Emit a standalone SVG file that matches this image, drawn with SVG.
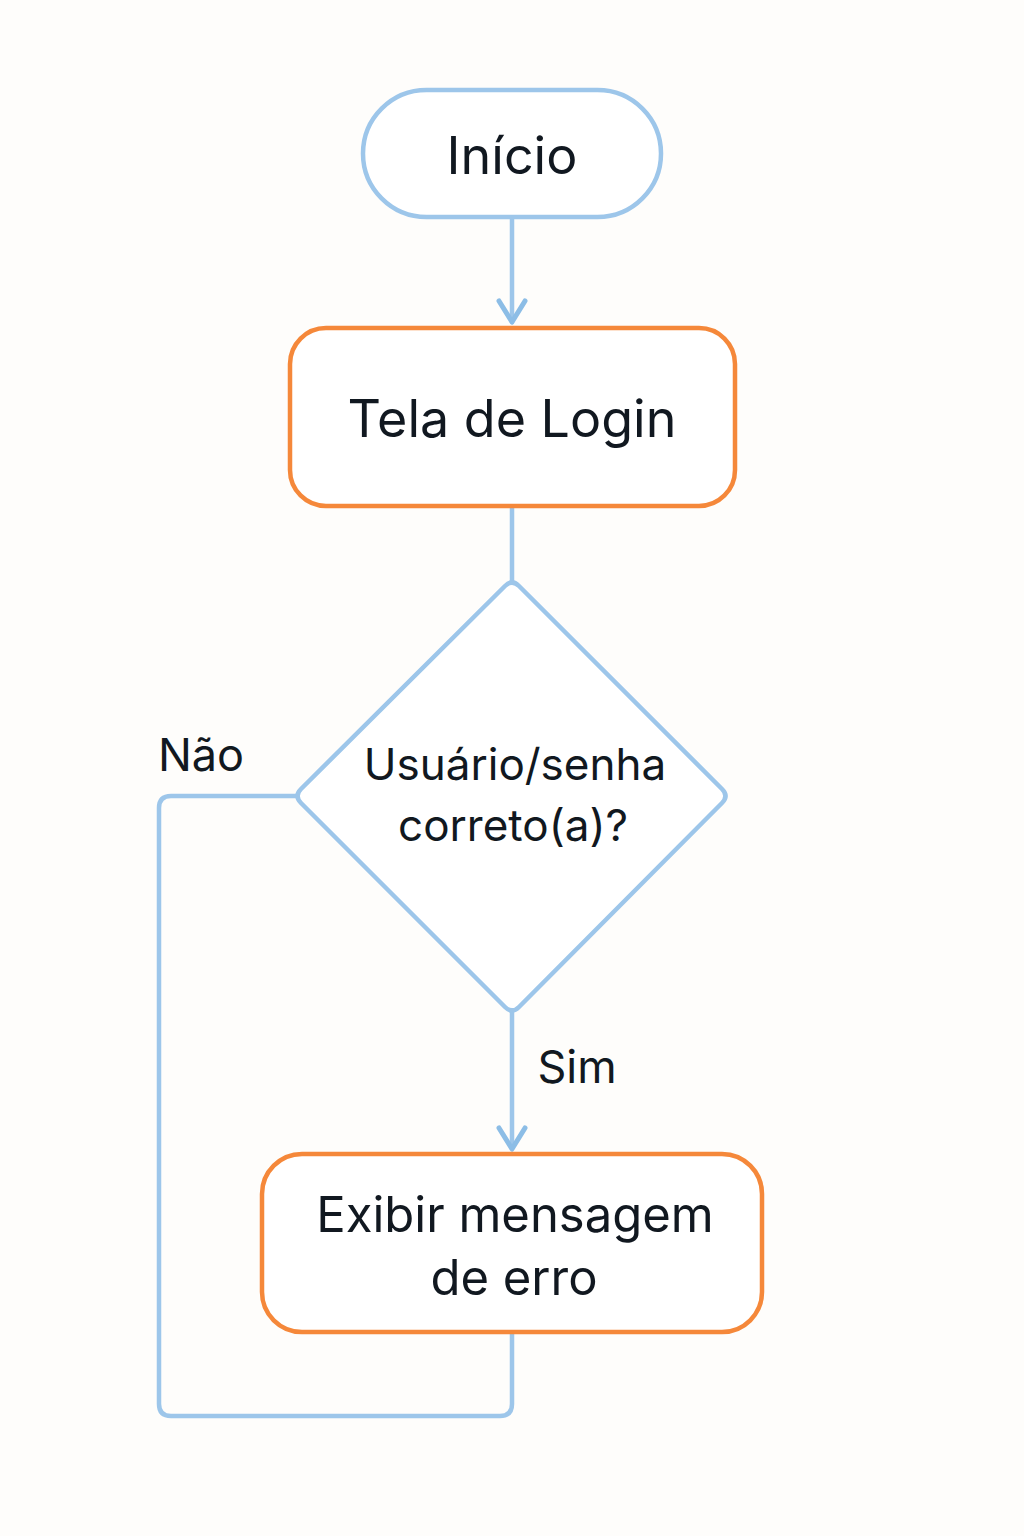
<svg xmlns="http://www.w3.org/2000/svg" width="1024" height="1536" viewBox="0 0 1024 1536">
<defs>
<style>
.blue{fill:#fff;stroke:#9dc6ea;stroke-width:4.5}
.orange{fill:#fff;stroke:#f5883a;stroke-width:4.5}
.conn{fill:none;stroke:#9dc6ea;stroke-width:4.5;stroke-linejoin:round;stroke-linecap:round}
.head{fill:none;stroke:#8cbde6;stroke-width:5;stroke-linecap:round;stroke-linejoin:round}
.t{font-family:Inter,"Noto Sans","Liberation Sans",sans-serif;fill:#111820;text-anchor:middle}
</style>
</defs>
<rect width="1024" height="1536" fill="#fefdfb"/>
<g id="connectors">
<path class="conn" d="M512,218 L512,322"/>
<path class="head" d="M499,301 L512,322 L525,301"/>
<path class="conn" d="M512,507 L512,583"/>
<path class="conn" d="M512,1010 L512,1148"/>
<path class="head" d="M499,1128 L512,1149 L525,1128"/>
<path class="conn" d="M512,1333 L512,1404 Q512,1416 500,1416 L171,1416 Q159,1416 159,1404 L159,808 Q159,796 171,796 L297,796"/>
<text class="t" x="577" y="1083" font-size="45">Sim</text>
<text class="t" x="201" y="771" font-size="45">Não</text>
</g>
<g id="inicio">
<rect class="blue" x="363" y="90" width="298" height="127" rx="63.5"/>
<text class="t" x="512" y="174" font-size="52">Início</text>
</g>
<g id="login">
<rect class="orange" x="290" y="328" width="445" height="178" rx="36"/>
<text class="t" x="512" y="437" font-size="52">Tela de Login</text>
</g>
<g id="decisao">
<path class="blue" d="M505,586 Q512,579 519,586 L722,789 Q729,796 722,803 L519,1007 Q512,1014 505,1007 L301,803 Q294,796 301,789 Z"/>
<text class="t" x="515" y="780" font-size="44">Usuário/senha</text>
<text class="t" x="513" y="841" font-size="44">correto(a)?</text>
</g>
<g id="erro">
<rect class="orange" x="262" y="1154" width="500" height="178" rx="40"/>
<text class="t" x="515" y="1232" font-size="49">Exibir mensagem</text>
<text class="t" x="514" y="1295" font-size="49">de erro</text>
</g>
</svg>
